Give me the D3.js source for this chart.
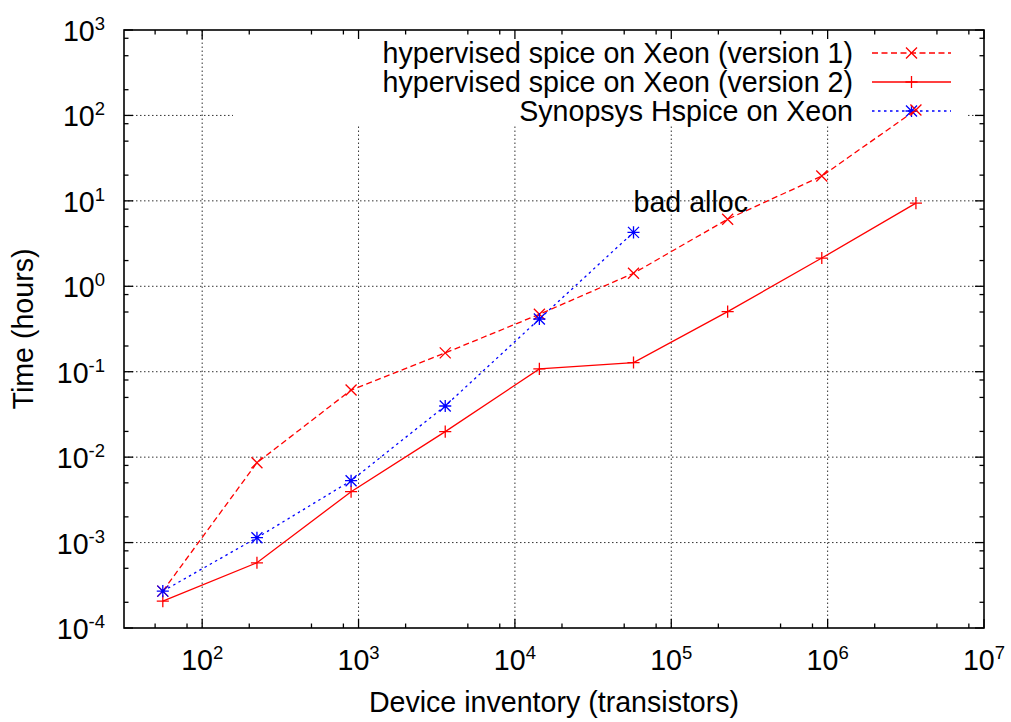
<!DOCTYPE html>
<html>
<head>
<meta charset="utf-8">
<script src="https://cdn.jsdelivr.net/npm/d3@7"></script>
<style>
  html, body { margin: 0; padding: 0; background: #fff; }
  text { font-family: "Liberation Sans", Arial, Helvetica, sans-serif; fill: #000; }
</style>
</head>
<body>
<svg id="chart" width="1011" height="722"></svg>
<script>
// ---- data ----
const devices = [56, 224, 896, 3584, 14336, 57344, 229376, 917504, 3670016];
const version1 = [2.7e-4, 8.6e-3, 0.061, 0.166, 0.47, 1.42, 6.1, 19.5, 116];
const version2 = [2.06e-4, 5.8e-4, 3.94e-3, 0.0199, 0.108, 0.128, 0.505, 2.14, 9.4];
const hspice = [2.7e-4, 1.14e-3, 5.3e-3, 0.0397, 0.414, 4.28];
const xTickExps = [2, 3, 4, 5, 6, 7];
const yTickExps = [-4, -3, -2, -1, 0, 1, 2, 3];
const minorMultipliers = [2, 5, 8];
const seriesNames = ["hypervised spice on Xeon (version 1)", "hypervised spice on Xeon (version 2)", "Synopsys Hspice on Xeon"];
const annotationText = "bad alloc";
const annotationPos = [57344, 7.4];
const xTitle = "Device inventory (transistors)";
const yTitle = "Time (hours)";

// ---- layout ----
const L = 124, R = 984, T = 30, B = 628;
const FS = 28.6;
const svg = d3.select("#chart");
const x = d3.scaleLog().domain([Math.pow(10, 1.5), 1e7]).range([L, R]);
const y = d3.scaleLog().domain([1e-4, 1e3]).range([B, T]);

const legendBox = { x0: 233, x1: 966, y0: T, y1: 125 };

// grid
const gridG = svg.append("g");
const gridStyle = s => s.attr("stroke", "#333").attr("stroke-width", 1).attr("stroke-dasharray", "1.5,2.5").attr("fill", "none");
xTickExps.filter(e => e > 1.5 && e < 7).forEach(e => {
  gridG.append("line").attr("x1", x(Math.pow(10, e))).attr("x2", x(Math.pow(10, e)))
    .attr("y1", B).attr("y2", T).call(gridStyle);
});
yTickExps.filter(e => e > -4 && e < 3).forEach(e => {
  gridG.append("line").attr("x1", L).attr("x2", R)
    .attr("y1", y(Math.pow(10, e))).attr("y2", y(Math.pow(10, e))).call(gridStyle);
});
// legend background hides the grid
svg.append("rect").attr("x", legendBox.x0).attr("y", legendBox.y0)
  .attr("width", legendBox.x1 - legendBox.x0).attr("height", legendBox.y1 - legendBox.y0)
  .attr("fill", "#fff");

// ticks
const tickG = svg.append("g").attr("stroke", "#000").attr("stroke-width", 1.3);
const majorLen = 9, minorLen = 4.5;
function xMinor() {
  const out = [];
  for (let e = 1; e <= 6; e++) minorMultipliers.forEach(m => {
    const v = m * Math.pow(10, e);
    if (v > x.domain()[0] && v < x.domain()[1]) out.push(v);
  });
  return out;
}
function yMinor() {
  const out = [];
  for (let e = -4; e <= 2; e++) minorMultipliers.forEach(m => out.push(m * Math.pow(10, e)));
  return out;
}
xTickExps.forEach(e => {
  const px = x(Math.pow(10, e));
  tickG.append("line").attr("x1", px).attr("x2", px).attr("y1", B).attr("y2", B - majorLen);
  tickG.append("line").attr("x1", px).attr("x2", px).attr("y1", T).attr("y2", T + majorLen);
});
xMinor().forEach(v => {
  const px = x(v);
  tickG.append("line").attr("x1", px).attr("x2", px).attr("y1", B).attr("y2", B - minorLen);
  tickG.append("line").attr("x1", px).attr("x2", px).attr("y1", T).attr("y2", T + minorLen);
});
yTickExps.forEach(e => {
  const py = y(Math.pow(10, e));
  tickG.append("line").attr("x1", L).attr("x2", L + majorLen).attr("y1", py).attr("y2", py);
  tickG.append("line").attr("x1", R).attr("x2", R - majorLen).attr("y1", py).attr("y2", py);
});
yMinor().forEach(v => {
  const py = y(v);
  tickG.append("line").attr("x1", L).attr("x2", L + minorLen).attr("y1", py).attr("y2", py);
  tickG.append("line").attr("x1", R).attr("x2", R - minorLen).attr("y1", py).attr("y2", py);
});

// frame
svg.append("rect").attr("x", L).attr("y", T).attr("width", R - L).attr("height", B - T)
  .attr("fill", "none").attr("stroke", "#000").attr("stroke-width", 1.6);

// tick labels
function powLabel(sel, e) {
  sel.append("tspan").text("10");
  sel.append("tspan").attr("font-size", 18.5).attr("dy", -11).text(String(e));
}
yTickExps.forEach(e => {
  const t = svg.append("text").attr("x", 105).attr("y", y(Math.pow(10, e)) + 11)
    .attr("text-anchor", "end").attr("font-size", FS);
  powLabel(t, e);
});
xTickExps.forEach(e => {
  const t = svg.append("text").attr("x", x(Math.pow(10, e))).attr("y", 670)
    .attr("text-anchor", "middle").attr("font-size", FS);
  powLabel(t, e);
});

// axis titles
svg.append("text").attr("x", (L + R) / 2).attr("y", 712).attr("text-anchor", "middle")
  .attr("font-size", FS).text(xTitle);
svg.append("text").attr("transform", `translate(33,${(T + B) / 2}) rotate(-90)`)
  .attr("text-anchor", "middle").attr("font-size", FS).text(yTitle);

// markers
function markerPath(type, s) {
  const c = `M${-s},${-s}L${s},${s}M${-s},${s}L${s},${-s}`;
  const p = `M${-s * 1.1},0L${s * 1.1},0M0,${-s * 1.1}L0,${s * 1.1}`;
  if (type === "x") return c;
  if (type === "+") return p;
  return c + p;
}
const series = [
  { name: seriesNames[0], values: version1, color: "#ff0000", dash: "6,3.5", marker: "x" },
  { name: seriesNames[1], values: version2, color: "#ff0000", dash: null, marker: "+" },
  { name: seriesNames[2], values: hspice, color: "#0000ff", dash: "2.5,3.5", marker: "*" }
];
const line = d3.line().x(d => x(d[0])).y(d => y(d[1]));

// legend
const legRowY = [53, 82, 111];
series.forEach((s, i) => {
  svg.append("text").attr("x", 853).attr("y", legRowY[i]).attr("dy", "0.36em")
    .attr("text-anchor", "end").attr("font-size", FS).text(s.name);
  const ln = svg.append("line").attr("x1", 872).attr("x2", 951).attr("y1", legRowY[i]).attr("y2", legRowY[i])
    .attr("stroke", s.color).attr("stroke-width", 1.3);
  if (s.dash) ln.attr("stroke-dasharray", s.dash);
  svg.append("path").attr("transform", `translate(911.5,${legRowY[i]})`)
    .attr("d", markerPath(s.marker, 5.5)).attr("stroke", s.color).attr("stroke-width", 1.3).attr("fill", "none");
});

// data
series.forEach(s => {
  const pts = s.values.map((v, i) => [devices[i], v]);
  const p = svg.append("path").datum(pts).attr("d", line)
    .attr("fill", "none").attr("stroke", s.color).attr("stroke-width", 1.3);
  if (s.dash) p.attr("stroke-dasharray", s.dash);
  svg.append("g").selectAll("path").data(pts).join("path")
    .attr("transform", d => `translate(${x(d[0])},${y(d[1])})`)
    .attr("d", markerPath(s.marker, 5.5))
    .attr("stroke", s.color).attr("stroke-width", 1.3).attr("fill", "none");
});

// annotation
svg.append("text").attr("x", x(annotationPos[0])).attr("y", y(annotationPos[1]))
  .attr("font-size", FS).text(annotationText);
</script>
</body>
</html>
